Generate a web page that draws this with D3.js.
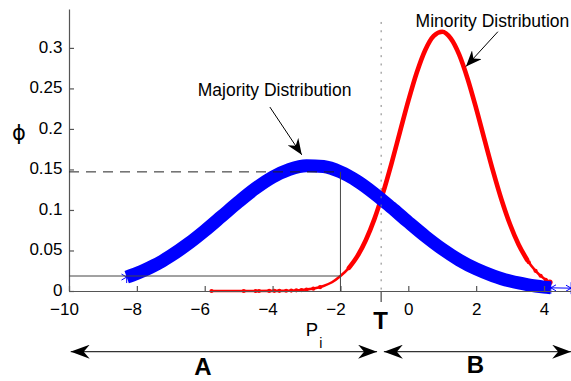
<!DOCTYPE html>
<html>
<head>
<meta charset="utf-8">
<script src="https://cdn.jsdelivr.net/npm/d3@7"></script>
<style>
  body { margin: 0; background: #fff; }
  svg { display: block; }
  text { font-family: "Liberation Sans", Arial, Helvetica, sans-serif; fill: #000; }
</style>
</head>
<body>
<svg id="chart" width="571" height="381"></svg>
<script>
// Majority class density (blue), sampled along x
const majorityX = [-8.3, -8, -7.75, -7.5, -7.25, -7, -6.5, -6, -5.5, -5, -4.5, -4, -3.5, -3, -2.5, -2,
                   -1.5, -1, -0.5, 0, 0.5, 1, 1.5, 2, 2.5, 2.75, 3, 3.25, 3.5, 3.75, 4, 4.2, 4.8];
const majorityY = [0.0172, 0.0218, 0.0262, 0.0313, 0.0370, 0.0434, 0.0579, 0.0744, 0.0922, 0.1101, 0.1267,
                   0.1406, 0.1502, 0.1547, 0.1536, 0.1470, 0.1355, 0.1203, 0.1030, 0.0850, 0.0676, 0.0518,
                   0.0382, 0.0272, 0.0187, 0.0152, 0.0123, 0.0099, 0.0079, 0.0062, 0.0048, 0.0039, 0.0035];

// Minority class density (red)
const minorityX = [-5.8, -5, -4.5, -4, -3.5, -3, -2.75, -2.5, -2.25, -2, -1.75, -1.5, -1.25, -1, -0.75,
                   -0.5, -0.25, 0, 0.25, 0.5, 0.75, 1, 1.25, 1.5, 1.75, 2, 2.25, 2.5, 2.75, 3, 3.25,
                   3.5, 3.75, 4, 4.17];
const minorityY = [0.0000, 0.0000, 0.0000, 0.0001, 0.0004, 0.0018, 0.0033, 0.0062, 0.0108, 0.0185,
                   0.0285, 0.0430, 0.0630, 0.0887, 0.1204, 0.1567, 0.1957, 0.2345, 0.2696, 0.2975,
                   0.3149, 0.3200, 0.3118, 0.2917, 0.2617, 0.2254, 0.1862, 0.1476, 0.1123, 0.0820,
                   0.0574, 0.0386, 0.0249, 0.0154, 0.0108];
// individual minority samples visible along the tails
const minorityDotX = [-5.8, -4.85, -4.5, -4.4, -4.1, -3.95, -3.8, -3.6, -3.45, -3.3, -3.15, -3.0, -2.8, -2.6,
                      3.55, 3.75, 3.9, 4.05, 4.17];
const minorityDotY = [0.0000, 0.0000, 0.0000, 0.0000, 0.0001, 0.0002, 0.0002, 0.0003, 0.0005, 0.0008, 0.0012,
                      0.0018, 0.0029, 0.0047, 0.0355, 0.0249, 0.0188, 0.0139, 0.0108];

// axis ticks
const xTicks = [-10, -8, -6, -4, -2, 0, 2, 4];
const yTicks = [0, 0.05, 0.1, 0.15, 0.2, 0.25, 0.3];
const yTickLabels = ["0", "0.05", "0.1", "0.15", "0.2", "0.25", "0.3"];

// threshold and the sample point P_i
const threshold = -0.8;
const piX = -2;
const piMajority = 0.147;
const piMinority = 0.0185;

const svg = d3.select("#chart");
const x = d3.scaleLinear().domain([-10, 5]).range([69, 577.95]);
const y = d3.scaleLinear().domain([0, 0.348]).range([291, 9]);

const defs = svg.append("defs");
function arrowMarker(id, len, half, notch) {
  defs.append("marker")
    .attr("id", id)
    .attr("markerUnits", "userSpaceOnUse")
    .attr("viewBox", `0 ${-half} ${len} ${2 * half}`)
    .attr("refX", len).attr("refY", 0)
    .attr("markerWidth", len).attr("markerHeight", 2 * half)
    .attr("orient", "auto-start-reverse")
    .append("path")
    .attr("d", `M0,${-half}L${len},0L0,${half}L${notch},0Z`)
    .attr("fill", "#000");
}
arrowMarker("headSmall", 16, 6.5, 5);
arrowMarker("headBig", 19, 7, 6);

// minority density (drawn beneath the majority band)
const minPts = minorityX.map((v, i) => [v, minorityY[i]]);
const line = d3.line().x(d => x(d[0])).y(d => y(d[1])).curve(d3.curveMonotoneX);
svg.append("path").attr("d", line(minPts))
  .attr("fill", "none").attr("stroke", "#ff0000").attr("stroke-width", 2.6)
  .attr("stroke-linejoin", "round").attr("stroke-linecap", "round");
svg.append("path").attr("d", line(minPts.filter(d => d[0] >= -1.75 && d[0] <= 3.6)))
  .attr("fill", "none").attr("stroke", "#ff0000").attr("stroke-width", 4.6)
  .attr("stroke-linejoin", "round").attr("stroke-linecap", "round");
svg.append("g").selectAll("circle")
  .data(minorityDotX.map((v, i) => [v, minorityDotY[i]]))
  .join("circle")
  .attr("cx", d => x(d[0])).attr("cy", d => y(d[1]))
  .attr("r", (d, i, n) => i === n.length - 1 ? 2.8 : 2.1)
  .attr("fill", "#ff0000");

// majority density: dense band of samples plus a thin connecting line
const majPts = majorityX.map((v, i) => [v, majorityY[i]]);
const bandPts = majPts.filter(d => d[0] <= 4.2);
svg.append("path").attr("d", line(majPts))
  .attr("fill", "none").attr("stroke", "#0000ff").attr("stroke-width", 1);
svg.append("path").attr("d", line(bandPts))
  .attr("fill", "none").attr("stroke", "#0000ff").attr("stroke-width", 13)
  .attr("stroke-linejoin", "round").attr("stroke-linecap", "butt");
const star = d3.symbol().type(d3.symbolAsterisk).size(100);
svg.append("g").selectAll("path")
  .data(majPts.filter(d => d[0] <= -7.5 || d[0] >= 3))
  .join("path")
  .attr("transform", d => `translate(${x(d[0])},${y(d[1])})`)
  .attr("d", star)
  .attr("fill", "none").attr("stroke", "#0000ff").attr("stroke-width", 1);

// axes
const axisColor = "#555";
const gx = svg.append("g").attr("transform", `translate(0,${y(0)})`)
  .call(d3.axisBottom(x).tickValues(xTicks).tickSizeInner(-5).tickSizeOuter(0).tickPadding(12)
    .tickFormat(d => (d < 0 ? "\u2212" : "") + Math.abs(d)));
const gy = svg.append("g").attr("transform", `translate(${x(-10)},0)`)
  .call(d3.axisLeft(y).tickValues(yTicks).tickSizeInner(-5).tickSizeOuter(0).tickPadding(6.5)
    .tickFormat((d, i) => yTickLabels[i]));
[gx, gy].forEach(g => {
  g.select(".domain").attr("stroke", axisColor).attr("stroke-width", 1.2);
  g.selectAll(".tick line").attr("stroke", axisColor).attr("stroke-width", 1.2);
  g.selectAll(".tick text").attr("font-size", 17).attr("fill", "#000")
    .style("font-family", '"Liberation Sans", Arial, sans-serif');
});
gx.selectAll(".tick text").attr("dx", d => d < 0 ? -5 : 0);
gy.selectAll(".tick text").attr("dy", "0.26em");

// threshold line
svg.append("line")
  .attr("x1", x(threshold)).attr("x2", x(threshold))
  .attr("y1", y(0.332)).attr("y2", y(0))
  .attr("stroke", "#808080").attr("stroke-width", 1).attr("stroke-dasharray", "2,6.3");
svg.append("line")
  .attr("x1", x(threshold)).attr("x2", x(threshold))
  .attr("y1", y(0)).attr("y2", y(0) + 11)
  .attr("stroke", axisColor).attr("stroke-width", 1.3);

// guides from P_i to the two densities
svg.append("line")
  .attr("x1", x(-10)).attr("x2", x(piX)).attr("y1", y(piMajority)).attr("y2", y(piMajority))
  .attr("stroke", "#222").attr("stroke-width", 1).attr("stroke-dasharray", "10,7");
svg.append("line")
  .attr("x1", x(piX)).attr("x2", x(piX)).attr("y1", y(piMajority)).attr("y2", y(0))
  .attr("stroke", "#444").attr("stroke-width", 1);
svg.append("line")
  .attr("x1", x(-10)).attr("x2", x(piX)).attr("y1", y(piMinority)).attr("y2", y(piMinority))
  .attr("stroke", "#444").attr("stroke-width", 1);

// annotations
svg.append("text").attr("x", x(-3.94)).attr("y", y(0.2405))
  .attr("text-anchor", "middle").attr("font-size", 17.5).text("Majority Distribution");
svg.append("line")
  .attr("x1", x(-4.08)).attr("y1", y(0.227)).attr("x2", x(-3.14)).attr("y2", y(0.168))
  .attr("stroke", "#000").attr("stroke-width", 1).attr("marker-end", "url(#headSmall)");
svg.append("text").attr("x", x(2.48)).attr("y", y(0.3262))
  .attr("text-anchor", "middle").attr("font-size", 17.5).text("Minority Distribution");
svg.append("line")
  .attr("x1", x(2.64)).attr("y1", y(0.320)).attr("x2", x(1.70)).attr("y2", y(0.277))
  .attr("stroke", "#000").attr("stroke-width", 1).attr("marker-end", "url(#headSmall)");

// axis names
svg.append("text").attr("x", 19).attr("y", 140)
  .attr("text-anchor", "middle").attr("font-size", 21)
  .style("font-family", '"DejaVu Sans", sans-serif').text("\u03D5");
const pLabel = svg.append("text").attr("x", x(-3.02)).attr("y", 336).attr("font-size", 18.5);
pLabel.append("tspan").text("P");
pLabel.append("tspan").attr("font-size", 14).attr("dx", 1).attr("dy", 12).text("i");
svg.append("text").attr("x", x(threshold) - 0.5).attr("y", 329)
  .attr("text-anchor", "middle").attr("font-size", 24).attr("font-weight", "bold").text("T");

// region arrows
const arrowY = 351.7;
[[-9.95, -0.92], [-0.72, 4.8]].forEach(([a, b]) => {
  svg.append("line")
    .attr("x1", x(a)).attr("x2", x(b)).attr("y1", arrowY).attr("y2", arrowY)
    .attr("stroke", "#333").attr("stroke-width", 1.3)
    .attr("marker-start", "url(#headBig)").attr("marker-end", "url(#headBig)");
});
svg.append("text").attr("x", x(-6.05)).attr("y", 375)
  .attr("text-anchor", "middle").attr("font-size", 24).attr("font-weight", "bold").text("A");
svg.append("text").attr("x", x(1.98)).attr("y", 373)
  .attr("text-anchor", "middle").attr("font-size", 24).attr("font-weight", "bold").text("B");
</script>
</body>
</html>
